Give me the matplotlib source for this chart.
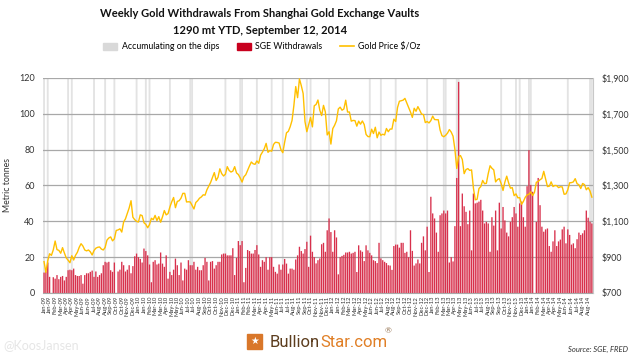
import pandas as pd
import matplotlib
matplotlib.use("Agg")
import matplotlib.pyplot as plt
from matplotlib.patches import Patch, Rectangle
from matplotlib.lines import Line2D

plt.rcParams['font.family'] = ['Lato', 'DejaVu Sans']

# weekly categories, Fridays, Jan 2009 - Sep 2014
weeks = pd.date_range("2009-01-09", "2014-09-12", freq="W-FRI")
week_labels = [d.strftime("%b-%y") for d in weeks]

# SGE withdrawals, metric tonnes per week
sge_withdrawals = [
    11.4, 12, 17, 9, 0, 8.8, 8, 10, 7.7, 9, 9.5, 7, 9, 12.7, 13, 12.7, 13.6, 10, 9.5, 9.5,
    10, 5.2, 10, 11, 11, 11.8, 12.5, 9, 12, 9, 10, 11, 15.5, 17.4, 17, 17.4, 12.7, 11.8, 17, 0,
    12, 13, 17.4, 15.5, 12, 13, 15.5, 11, 15, 20.5, 22,
    20, 19, 17, 24.8, 23.4, 21, 15.9, 6, 17.4, 18.3, 15.9, 16.4, 22.6, 16.4, 14.6, 21, 8, 11.8, 10, 13,
    19.2, 15.5, 10, 17, 7, 13.6, 13, 18.3, 15.5, 15.5, 17.4, 13, 14.6, 12.7, 12.7, 15.5, 19.6, 17.4, 7, 17.4,
    17.8, 13.6, 15.5, 17.4, 17.4, 21.5, 22,
    22, 21, 21, 21, 25, 10, 19.6, 29, 26.7, 29, 6, 14, 24, 23.4, 22, 22, 24, 26.7, 21.5, 14.6,
    18.3, 17.4, 20, 13, 20, 20, 14.6, 11.8, 10.8, 15.9, 13, 15.9, 19, 16.4, 10.8, 13.6, 13.6, 13, 18.7, 21,
    25.8, 23.4, 22, 24.5, 28.6, 14.6,
    32, 23, 20, 16.5, 18.3, 19.3, 27.2, 28, 23, 35, 41.6, 34, 23, 35, 31, 10.4, 20, 20.7, 21.3, 22.6,
    22.6, 23, 22, 22.4, 23, 11.7, 26.6, 23.8, 23, 17.8, 26.6, 23.8, 22.4, 21, 18.3, 17.8, 16.7, 28, 19.3, 18.3,
    17.4, 16.7, 15.5, 15.3, 12.9, 26.2, 27, 27, 25.3, 28, 28, 22.4, 23, 20, 35, 23.5, 15.3, 16.5, 18.7, 16.5,
    28, 31.6, 23.8, 37, 11.7, 53.7, 44.4, 41.6, 33.7, 23, 43.4,
    44.4, 46, 44.4, 46, 17, 20, 17.6, 37.3, 64.2, 117.8, 37.3, 55.5, 48.4, 45.3, 38.4, 46, 23.8, 55.5, 50, 50.4,
    51, 52, 46, 38.8, 39.7, 38.8, 23, 42.3, 37.6, 46, 23.8, 50.4, 36, 48, 40.5, 33.7, 31.6, 39.7, 42.3, 48,
    44.4, 37, 50, 51, 42.3, 37, 59.6, 79.7, 60.3, 56.5, 0, 39.7, 64.2, 49, 37, 34.2, 35.5, 36, 26.2, 23,
    28.8, 35, 26.2, 28.8, 29.8, 35.5, 37, 27.7, 35.5, 32.4, 27, 27.7, 25, 30, 33.7, 32.4, 33.3, 35, 46, 42,
    39.7, 38.8,
]

# gold price $/oz, weekly
gold_2009 = [875, 815, 880, 919, 910, 941, 990, 942, 938, 922, 953, 923, 896, 883, 869, 908,
             884, 910, 927, 955, 975, 962, 940, 935, 940, 930, 912, 937, 950, 955, 957, 945, 940, 954,
             995, 1007, 1013, 991, 1002, 1049, 1052, 1058, 1040, 1096, 1114, 1144, 1175, 1215, 1123, 1109, 1100]
gold_2010 = [1096, 1136, 1132, 1092, 1083, 1064, 1082, 1117, 1109, 1133, 1104, 1126, 1095,
             1125, 1160, 1136, 1143, 1180, 1209, 1233, 1176, 1211, 1215, 1229, 1256, 1256,
             1208, 1209, 1208, 1189, 1169, 1205, 1215, 1229, 1236, 1248, 1246, 1276, 1296,
             1317, 1344, 1372, 1328, 1346, 1393, 1366, 1353, 1363, 1405, 1384, 1375, 1380, 1405]
gold_2011 = [1370, 1361, 1342, 1319, 1349, 1360, 1385, 1409, 1431, 1421, 1418, 1437,
             1424, 1469, 1486, 1505, 1535, 1485, 1495, 1491, 1529, 1541, 1540, 1537, 1500,
             1483, 1541, 1594, 1602, 1628, 1663, 1747, 1852, 1790, 1895, 1857, 1813, 1656, 1600,
             1640, 1680, 1627, 1745, 1752, 1777, 1720, 1690, 1747, 1710, 1582, 1600, 1531]
gold_2012 = [1617, 1636, 1661, 1727, 1737, 1720, 1727, 1776, 1710, 1710, 1659, 1663, 1662,
             1631, 1659, 1642, 1660, 1640, 1585, 1573, 1572, 1614, 1590, 1625, 1566, 1598,
             1580, 1586, 1582, 1618, 1600, 1615, 1615, 1670, 1657, 1735, 1770, 1773, 1776,
             1786, 1760, 1735, 1710, 1680, 1731, 1714, 1740, 1720, 1698, 1696, 1651, 1657]
gold_2013 = [1649, 1662, 1687, 1668, 1667, 1667, 1609, 1578, 1572, 1580, 1592, 1612, 1598,
             1575, 1501, 1395, 1462, 1467, 1445, 1366, 1389, 1394, 1384, 1387, 1286, 1220,
             1223, 1283, 1294, 1328, 1310, 1312, 1366, 1410, 1396, 1387, 1320, 1333, 1338,
             1310, 1272, 1319, 1352, 1315, 1285, 1288, 1243, 1253, 1231, 1232, 1195, 1211]
gold_2014 = [1234, 1247, 1251, 1264, 1244, 1262, 1318, 1322, 1332, 1339, 1379, 1336, 1294,
             1296, 1320, 1294, 1300, 1299, 1288, 1293, 1292, 1251, 1253, 1276, 1315, 1316,
             1320, 1338, 1310, 1304, 1283, 1311, 1305, 1276, 1288, 1269, 1235]
gold_price = gold_2009 + gold_2010 + gold_2011 + gold_2012 + gold_2013 + gold_2014

# weeks marked "Accumulating on the dips"
dip_weeks = [0, 2, 13, 15, 27, 33, 38, 50, 55, 57, 68, 79, 80, 98, 106, 107, 115, 123, 129,
             142, 144, 154, 176, 182, 190, 207, 216, 217, 223, 224, 247, 255, 257, 262, 263,
             283, 295, 296]

x = list(range(len(weeks)))

fig = plt.figure(figsize=(6.34, 3.56), dpi=100)
ax = fig.add_axes([0.068, 0.177, 0.867, 0.604])

ax.bar(dip_weeks, [120] * len(dip_weeks), width=1.0, color='#e3e3e3', zorder=0.2, snap=False)
ax.bar(x, sge_withdrawals, width=0.72, color='#d8304c', linewidth=0, zorder=2, snap=False)

ax.set_xlim(-0.5, len(x) - 0.5)
ax.set_ylim(0, 120)
ax.set_yticks(range(0, 121, 20))
ax.yaxis.grid(True, color='#a8a8a8', linewidth=0.9)
ax.set_axisbelow(True)
for s in ['top', 'left', 'right']:
    ax.spines[s].set_visible(False)
ax.spines['bottom'].set_color('#a8a8a8')
ax.tick_params(axis='y', length=0, labelsize=6.5, colors='#333333', pad=6)
ax.set_xticks(x[::3])
ax.set_xticklabels(week_labels[::3], rotation=90, fontsize=4.2, color='#333333')
ax.tick_params(axis='x', length=0, pad=2)
ax.set_ylabel("Metric tonnes", fontsize=6.3, color='#333333', labelpad=5)

ax2 = ax.twinx()
ax2.plot(x, gold_price, color='#ffc000', linewidth=1.0, zorder=3)
ax2.set_ylim(700, 1900)
ax2.set_yticks(range(700, 1901, 200))
ax2.set_yticklabels(["${:,}".format(v) for v in range(700, 1901, 200)])
ax2.tick_params(axis='y', length=0, labelsize=6.3, colors='#333333', pad=6)
for s in ['top', 'left', 'bottom']:
    ax2.spines[s].set_visible(False)
ax2.spines['right'].set_color('#c8c8c8')

# titles
fig.text(0.41, 0.963, "Weekly Gold Withdrawals From Shanghai Gold Exchange Vaults",
         ha='center', va='center', fontsize=8, fontweight='bold', color='#111111')
fig.text(0.41, 0.913, "1290 mt YTD, September 12, 2014",
         ha='center', va='center', fontsize=8, fontweight='bold', color='#111111')

handles = [Patch(color='#d9d9d9'), Patch(color='#c8001e'),
           Line2D([0], [0], color='#ffc000', linewidth=1.2)]
names = ["Accumulating on the dips", "SGE Withdrawals", "Gold Price $/Oz"]
fig.legend(handles, names, loc='center', bbox_to_anchor=(0.413, 0.868), ncol=3,
           frameon=False, fontsize=6.3, handlelength=1.6, handleheight=0.9,
           columnspacing=2.0, handletextpad=0.5)

# footer
fig.text(0.006, 0.03, "@KoosJansen", fontsize=9, color='#e6e6e6', va='center')
fig.patches.append(Rectangle((0.39, 0.02), 0.024, 0.042, transform=fig.transFigure,
                             color='#d9772a', figure=fig))
fig.text(0.402, 0.041, "\u2605", fontsize=7, color='white', ha='center', va='center',
         family=['DejaVu Sans'])
fig.text(0.505, 0.037, "Bullion", fontsize=12, color='#5c3d1e', ha='right', va='center',
         family=['Roboto', 'DejaVu Sans'])
fig.text(0.505, 0.037, "Star.com", fontsize=12, color='#e07f26', ha='left', va='center',
         family=['Roboto', 'DejaVu Sans'])
fig.text(0.606, 0.07, "\u00ae", fontsize=6, color='#9a7a5a', ha='left', va='center')
fig.text(0.99, 0.017, "Source: SGE, FRED", fontsize=5.5, style='italic', color='#333333',
         ha='right', va='center')

fig.savefig("out.png", dpi=100)
